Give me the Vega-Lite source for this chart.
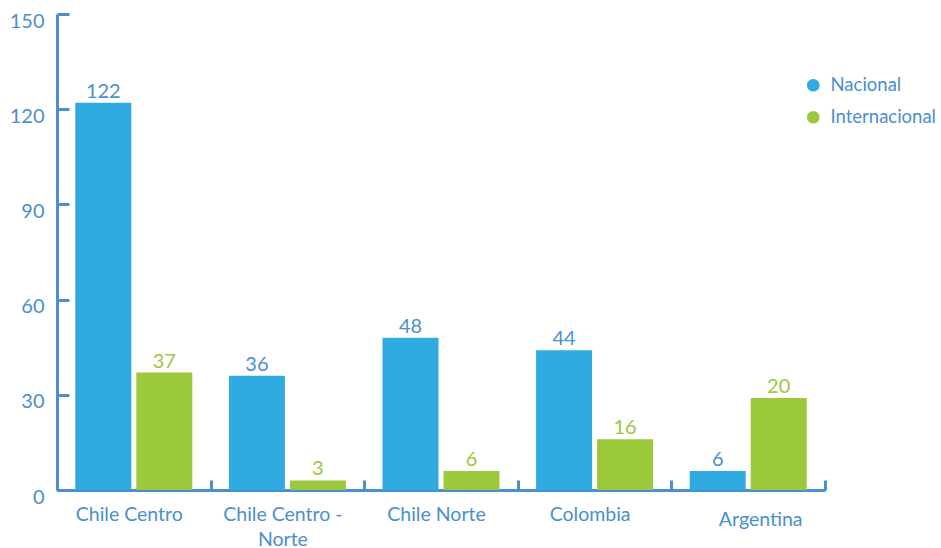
{
  "$schema": "https://vega.github.io/schema/vega-lite/v6.json",
  "width": 768,
  "height": 476,
  "autosize": {"type": "none"},
  "padding": {"left": 57, "top": 14, "right": 116, "bottom": 58},
  "background": "white",
  "config": {
    "view": {"stroke": null},
    "font": "Lato",
    "axis": {"labelFont": "Lato", "titleFont": "Lato"},
    "legend": {"labelFont": "Lato"}
  },
  "data": {
    "values": [
      {"region": "Chile Centro", "serie": "Nacional", "value": 122, "label": "122"},
      {"region": "Chile Centro", "serie": "Internacional", "value": 37, "label": "37"},
      {"region": "Chile Centro - Norte", "serie": "Nacional", "value": 36, "label": "36"},
      {"region": "Chile Centro - Norte", "serie": "Internacional", "value": 3, "label": "3"},
      {"region": "Chile Norte", "serie": "Nacional", "value": 48, "label": "48"},
      {"region": "Chile Norte", "serie": "Internacional", "value": 6, "label": "6"},
      {"region": "Colombia", "serie": "Nacional", "value": 44, "label": "44"},
      {"region": "Colombia", "serie": "Internacional", "value": 16, "label": "16"},
      {"region": "Argentina", "serie": "Nacional", "value": 6, "label": "6"},
      {"region": "Argentina", "serie": "Internacional", "value": 29, "label": "20"}
    ]
  },
  "encoding": {
    "x": {
      "field": "region",
      "type": "nominal",
      "sort": ["Chile Centro", "Chile Centro - Norte", "Chile Norte", "Colombia", "Argentina"],
      "scale": {"paddingInner": 0, "paddingOuter": 0},
      "axis": {
        "title": null,
        "labelAngle": 0,
        "tickBand": "extent",
        "tickSize": -10,
        "tickWidth": 3,
        "tickColor": "#4A8FCF",
        "domainColor": "#4A8FCF",
        "domainWidth": 3,
        "labelColor": "#4A8FCF",
        "labelFontSize": 19.5,
        "labelPadding": {"condition": {"test": "datum.value == 'Argentina'", "value": 30}, "value": 25},
        "labelOffset": {"condition": {"test": "datum.value == 'Argentina'", "value": 12}, "value": -5},
        "labelLineHeight": 25,
        "labelExpr": "datum.label == 'Chile Centro - Norte' ? ['Chile Centro -', 'Norte'] : datum.label"
      }
    },
    "xOffset": {
      "field": "serie",
      "type": "nominal",
      "sort": ["Nacional", "Internacional"],
      "scale": {"paddingInner": 0.082, "paddingOuter": 0.3}
    },
    "y": {
      "field": "value",
      "type": "quantitative",
      "scale": {"domain": [0, 150], "nice": false},
      "axis": {
        "title": null,
        "values": [0, 30, 60, 90, 120, 150],
        "grid": false,
        "tickSize": -12,
        "tickWidth": 3,
        "tickColor": "#4A8FCF",
        "domainColor": "#4A8FCF",
        "domainWidth": 3,
        "labelColor": "#4A8FCF",
        "labelFontSize": 20,
        "labelPadding": 25,
        "labelOffset": 7
      }
    },
    "color": {
      "field": "serie",
      "type": "nominal",
      "sort": ["Nacional", "Internacional"],
      "scale": {"domain": ["Nacional", "Internacional"], "range": ["#2FABE1", "#9BC93B"]},
      "legend": {
        "title": null,
        "orient": "none",
        "legendX": 747,
        "legendY": 62,
        "symbolType": "circle",
        "symbolSize": 160,
        "symbolStrokeWidth": 0,
        "labelFontSize": 18.5,
        "labelColor": "#4A8FCF",
        "labelOffset": 8,
        "rowPadding": 13
      }
    }
  },
  "layer": [
    {"mark": {"type": "bar"}},
    {
      "mark": {"type": "text", "baseline": "alphabetic", "dy": -5, "fontSize": 20, "font": "Lato"},
      "encoding": {
        "text": {"field": "label"},
        "color": {
          "field": "serie",
          "type": "nominal",
          "scale": {"domain": ["Nacional", "Internacional"], "range": ["#4A8FCF", "#9BC93B"]},
          "legend": null
        }
      }
    }
  ],
  "resolve": {"scale": {"color": "independent"}}
}
